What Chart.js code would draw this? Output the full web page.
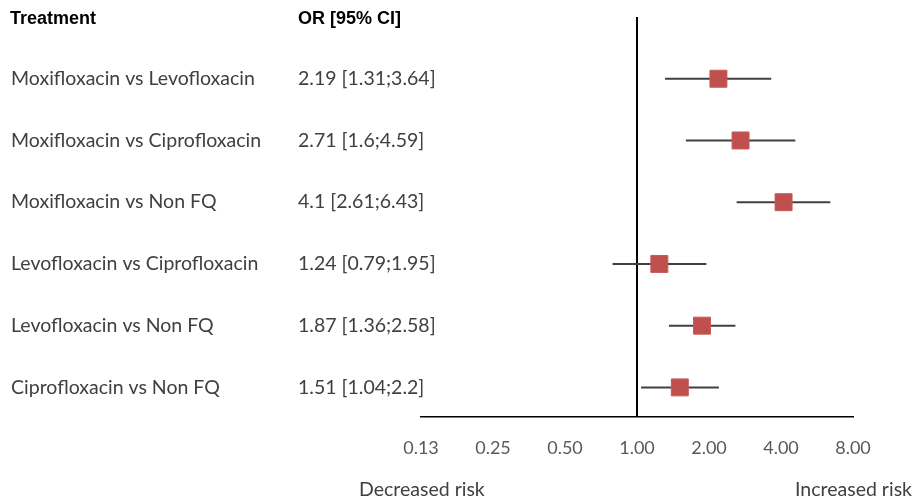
<!DOCTYPE html>
<html>
<head>
<meta charset="utf-8">
<title>Forest plot</title>
<script src="https://cdn.jsdelivr.net/npm/chart.js@4.4.0/dist/chart.umd.min.js"></script>
<style>
  html, body { margin: 0; padding: 0; background: #fff; }
  #wrap { width: 914px; height: 499px; position: relative; }
</style>
</head>
<body>
<div id="wrap"><canvas id="forest"></canvas></div>
<script>
const treatments = [
  'Moxifloxacin vs Levofloxacin',
  'Moxifloxacin vs Ciprofloxacin',
  'Moxifloxacin vs Non FQ',
  'Levofloxacin vs Ciprofloxacin',
  'Levofloxacin vs Non FQ',
  'Ciprofloxacin vs Non FQ'
]
const oddsRatios = [2.19, 2.71, 4.1, 1.24, 1.87, 1.51]
const ciLower = [1.31, 1.6, 2.61, 0.79, 1.36, 1.04]
const ciUpper = [3.64, 4.59, 6.43, 1.95, 2.58, 2.2]
const tickValues = [0.125, 0.25, 0.5, 1, 2, 4, 8]
const tickLabels = ['0.13', '0.25', '0.50', '1.00', '2.00', '4.00', '8.00']

const textFont = 'Lato, "Open Sans", sans-serif'
const Y_MIN = -0.47
const Y_MAX = 6.0

// row 0 at the top
const rowY = (i) => treatments.length - 1 - i

const ciDatasets = treatments.map((t, i) => ({
  type: 'line',
  data: [{x: ciLower[i], y: rowY(i)}, {x: ciUpper[i], y: rowY(i)}],
  borderColor: '#404040',
  borderWidth: 2,
  pointRadius: 0,
  order: 2
}))

const textPlugin = {
  id: 'forestText',
  afterDraw(chart) {
    const ctx = chart.ctx
    const yScale = chart.scales.y
    ctx.save()
    ctx.textBaseline = 'middle'
    ctx.fillStyle = '#000'
    ctx.font = 'bold 18px "Liberation Sans", Arial, sans-serif'
    ctx.textAlign = 'left'
    ctx.fillText('Treatment', 10, 19)
    ctx.fillText('OR [95% CI]', 298, 19)

    ctx.font = '19.5px ' + textFont
    ctx.fillStyle = '#404040'
    treatments.forEach((t, i) => {
      const y = yScale.getPixelForValue(rowY(i))
      ctx.fillText(t, 11, y)
      ctx.fillText(`${oddsRatios[i]} [${ciLower[i]};${ciUpper[i]}]`, 298, y)
    })

    ctx.fillText('Decreased risk', 359, 490)
    ctx.textAlign = 'right'
    ctx.fillText('Increased risk', 912, 490)
    ctx.restore()
  }
}

new Chart(document.querySelector('#forest'), {
  data: {
    datasets: [
      ...ciDatasets,
      {
        type: 'line',
        data: [{x: 1, y: Y_MIN}, {x: 1, y: Y_MAX}],
        borderColor: '#000',
        borderWidth: 2,
        pointRadius: 0,
        order: 3
      },
      {
        type: 'scatter',
        data: oddsRatios.map((v, i) => ({x: v, y: rowY(i)})),
        pointStyle: 'rect',
        pointRadius: 12,
        backgroundColor: '#c0504d',
        borderColor: '#c65a57',
        borderWidth: 1,
        order: 1
      }
    ]
  },
  options: {
    responsive: true,
    maintainAspectRatio: false,
    animation: false,
    layout: {
      padding: {left: 421, right: 61, top: 17, bottom: 19}
    },
    plugins: {
      legend: {display: false},
      tooltip: {enabled: false}
    },
    scales: {
      x: {
        type: 'logarithmic',
        min: 0.125,
        max: 8,
        afterBuildTicks: (scale) => {
          scale.ticks = tickValues.map(v => ({value: v}))
        },
        grid: {display: false, drawTicks: false},
        border: {display: true, color: '#000', width: 1.5},
        ticks: {
          padding: 21,
          autoSkip: false,
          maxRotation: 0,
          color: '#595959',
          font: {family: textFont, size: 18},
          callback: (value, index) => tickLabels[index]
        }
      },
      y: {
        type: 'linear',
        display: false,
        min: Y_MIN,
        max: Y_MAX
      }
    }
  },
  plugins: [textPlugin]
})
</script>
</body>
</html>
